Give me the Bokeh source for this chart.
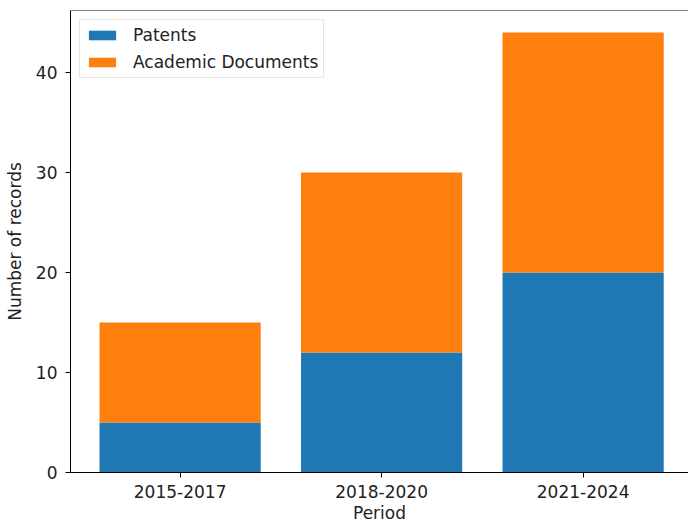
from bokeh.plotting import figure
from bokeh.models import ColumnDataSource, FixedTicker, Span, Range1d, Legend, LegendItem
from bokeh.embed import file_html
from bokeh.resources import INLINE

periods = ["2015-2017", "2018-2020", "2021-2024"]
patents = [5, 12, 20]
academic = [10, 18, 24]

xpos = list(range(len(periods)))
tops_all = [p + a for p, a in zip(patents, academic)]

src = ColumnDataSource(dict(x=xpos, pat=patents, zero=[0]*3, tot=tops_all))

FONT = "DejaVu Sans"
FS = "17px"
ymax = max(tops_all) * 1.05

p = figure(width=688, height=525, output_backend="svg", toolbar_location=None,
           x_range=Range1d(-0.544, 2.523), y_range=Range1d(0, ymax),
           min_border_left=70, min_border_right=0, min_border_top=10, min_border_bottom=51)
p.outline_line_color = None
p.grid.visible = False
p.background_fill_color = "white"

r1 = p.vbar(x="x", bottom="zero", top="pat", width=0.8, source=src,
            fill_color="#1f77b4", line_color=None)
r2 = p.vbar(x="x", bottom="pat", top="tot", width=0.8, source=src,
            fill_color="#ff7f0e", line_color=None)

p.add_layout(Span(location=ymax, dimension="width", line_color="black", line_width=1))

p.xaxis.ticker = FixedTicker(ticks=xpos)
p.xaxis.major_label_overrides = {i: lab for i, lab in enumerate(periods)}
p.yaxis.ticker = FixedTicker(ticks=[0, 10, 20, 30, 40])
for ax in (p.xaxis[0], p.yaxis[0]):
    ax.major_tick_out = 5
    ax.major_tick_in = 0
    ax.minor_tick_out = 0
    ax.minor_tick_in = 0
    ax.axis_line_color = "black"
    ax.major_tick_line_color = "black"
    ax.major_label_text_font = FONT
    ax.major_label_text_font_size = FS
    ax.major_label_text_color = "#222222"
    ax.axis_label_text_font = FONT
    ax.axis_label_text_font_size = FS
    ax.axis_label_text_font_style = "normal"
    ax.axis_label_text_color = "#222222"
p.xaxis.axis_label = "Period"
p.yaxis.axis_label = "Number of records"
p.xaxis.major_label_standoff = 7
p.xaxis.axis_label_standoff = 2
p.yaxis.major_label_standoff = 8
p.yaxis.axis_label_standoff = 8

legend = Legend(items=[LegendItem(label="Patents", renderers=[r1]),
                       LegendItem(label="Academic Documents", renderers=[r2])],
                location="top_left")
legend.margin = 9
legend.padding = 5
legend.spacing = 7
legend.glyph_width = 34
legend.glyph_height = 12
legend.label_height = 20
legend.label_text_font = FONT
legend.label_text_font_size = FS
legend.label_text_color = "#222222"
legend.label_standoff = 14
legend.border_line_color = "#cccccc"
legend.border_line_width = 1
legend.background_fill_alpha = 0.8
p.add_layout(legend)

open("out.html", "w").write(file_html(p, INLINE))
